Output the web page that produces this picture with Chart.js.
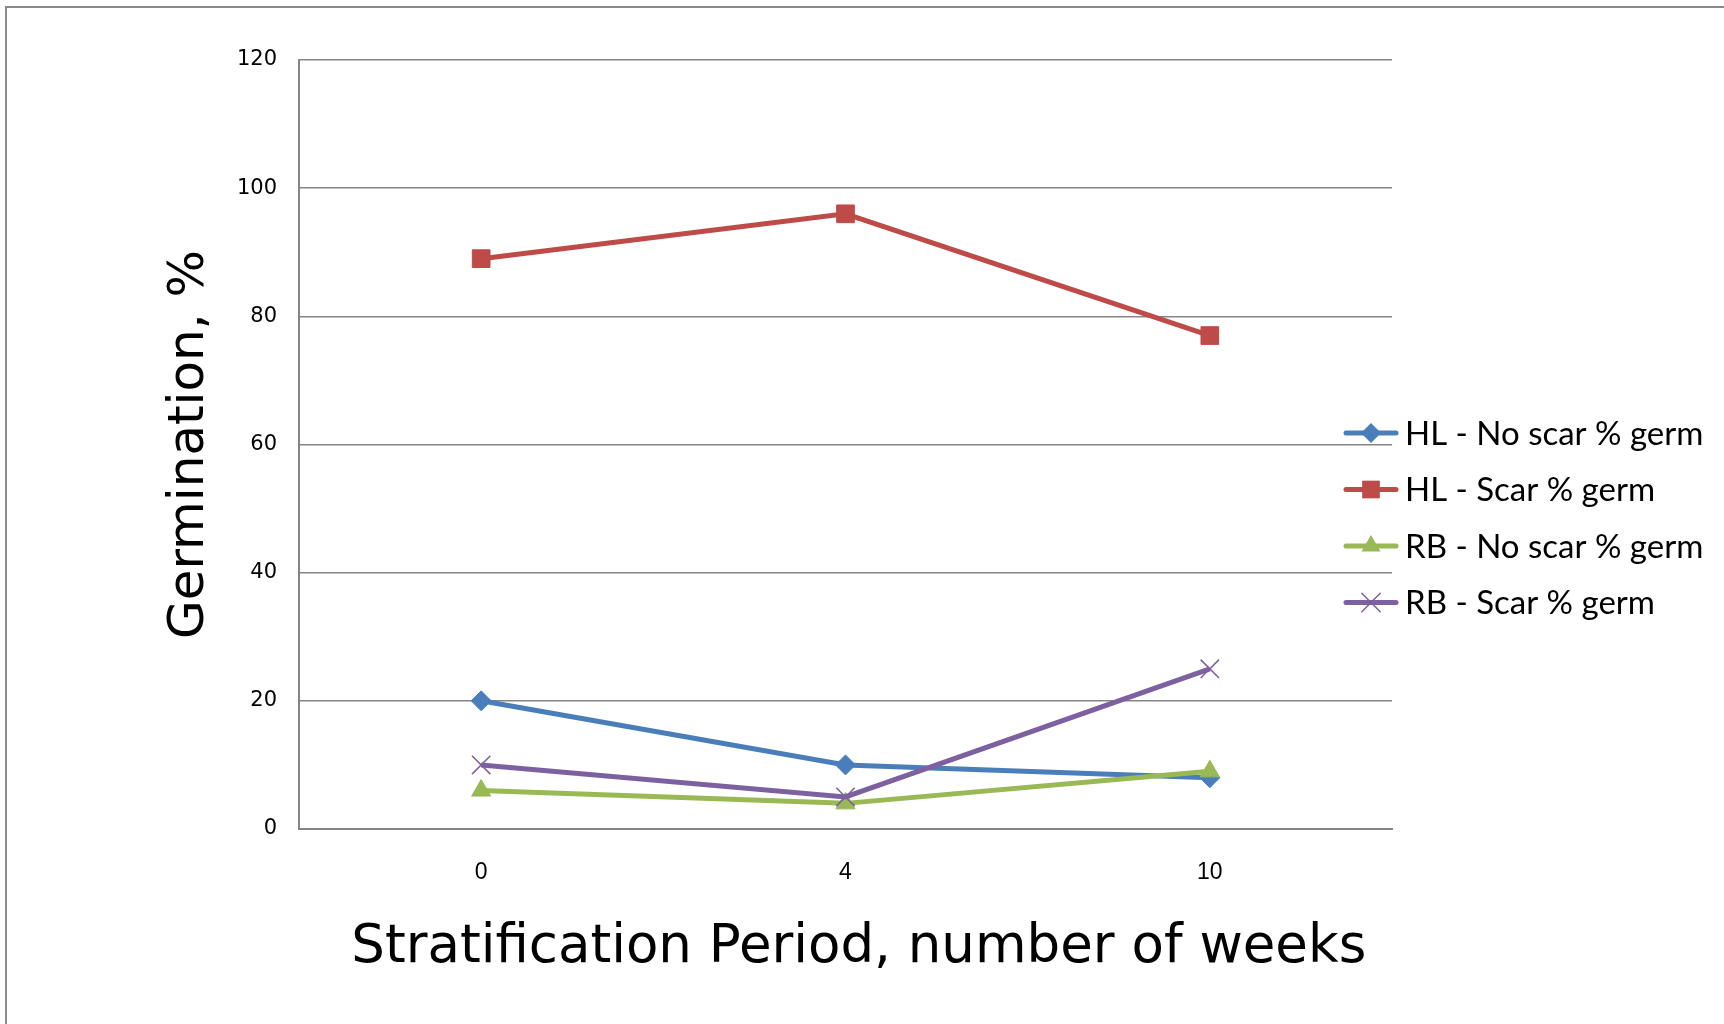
<!DOCTYPE html>
<html>
<head>
<meta charset="utf-8">
<script src="https://cdn.jsdelivr.net/npm/chart.js@4.4.1/dist/chart.umd.min.js"></script>
<style>
  html, body { margin: 0; padding: 0; background: #fff; overflow: hidden; }
  #frame {
    position: absolute; left: 5px; top: 6px; width: 1740px; height: 1040px;
    border-left: 2px solid #8a8a8a; border-top: 2px solid #8a8a8a;
  }
  #wrap { position: absolute; left: 0; top: 0; width: 1724px; height: 1024px; }
</style>
</head>
<body>
<div id="frame"></div>
<div id="wrap"><canvas id="germChart" width="1724" height="1024"></canvas></div>
<script>
// data
const weeks = ['0', '4', '10'];
const yTicks = [0, 20, 40, 60, 80, 100, 120];
const hlNoScar = [20, 10, 8];
const hlScar = [89, 96, 77];
const rbNoScar = [6, 4, 9];
const rbScar = [10, 5, 25];

const seriesNames = ['HL - No scar % germ', 'HL - Scar % germ', 'RB - No scar % germ', 'RB - Scar % germ'];
const seriesColors = ['#4A7EBB', '#BE4B48', '#98B954', '#7D60A0'];
const markers = ['rectRot', 'rect', 'triangle', 'crossRot'];
const markerSizes = [10, 12.5, 11, 13];

function drawMarker(ctx, style, x, y, r, color) {
  ctx.fillStyle = color;
  ctx.strokeStyle = color;
  ctx.beginPath();
  if (style === 'rectRot') {
    ctx.moveTo(x, y - r);
    ctx.lineTo(x + r, y);
    ctx.lineTo(x, y + r);
    ctx.lineTo(x - r, y);
    ctx.closePath();
    ctx.fill();
  } else if (style === 'rect') {
    const s = r * Math.SQRT1_2;
    ctx.rect(x - s, y - s, 2 * s, 2 * s);
    ctx.fill();
  } else if (style === 'triangle') {
    ctx.moveTo(x, y - r);
    ctx.lineTo(x + r * 0.866, y + r * 0.5);
    ctx.lineTo(x - r * 0.866, y + r * 0.5);
    ctx.closePath();
    ctx.fill();
  } else {
    const s = r * Math.SQRT1_2;
    ctx.lineWidth = 1.5;
    ctx.moveTo(x - s, y - s);
    ctx.lineTo(x + s, y + s);
    ctx.moveTo(x + s, y - s);
    ctx.lineTo(x - s, y + s);
    ctx.stroke();
  }
}

// legend on the right, overlapping the plot edge like the original
const sideLegend = {
  id: 'sideLegend',
  afterDraw(chart) {
    const ctx = chart.ctx;
    const x0 = 1346, x1 = 1396;
    ctx.save();
    chart.data.datasets.forEach((ds, i) => {
      const y = 433 + i * 56.5;
      ctx.strokeStyle = ds.borderColor;
      ctx.lineWidth = 5;
      ctx.lineCap = 'round';
      ctx.beginPath();
      ctx.moveTo(x0, y);
      ctx.lineTo(x1, y);
      ctx.stroke();
      drawMarker(ctx, markers[i], (x0 + x1) / 2, y, markerSizes[i], ds.borderColor);
      ctx.fillStyle = '#000';
      ctx.font = '33px Lato, "Open Sans", sans-serif';
      ctx.textBaseline = 'middle';
      ctx.textAlign = 'left';
      ctx.fillText(ds.label, 1405, y + 1);
    });
    ctx.restore();
  }
};

const datasets = [hlNoScar, hlScar, rbNoScar, rbScar].map((values, i) => ({
  label: seriesNames[i],
  data: values,
  borderColor: seriesColors[i],
  backgroundColor: seriesColors[i],
  borderWidth: 5,
  tension: 0,
  pointStyle: markers[i],
  pointRadius: markerSizes[i],
  pointBorderWidth: markers[i] === 'crossRot' ? 1.5 : 1,
  pointBackgroundColor: seriesColors[i],
  pointBorderColor: seriesColors[i],
  order: 3 - i
}));

const ctx = document.getElementById('germChart').getContext('2d');
new Chart(ctx, {
  type: 'line',
  data: { labels: weeks, datasets },
  options: {
    responsive: false,
    animation: false,
    layout: { padding: { left: 160, top: 60, right: 332, bottom: 0 } },
    plugins: {
      legend: { display: false },
      tooltip: { enabled: false }
    },
    scales: {
      x: {
        offset: true,
        grid: { display: false, drawTicks: false },
        border: { display: true, color: '#868686', width: 2 },
        ticks: {
          color: '#000',
          padding: 30,
          font: { family: '"Liberation Sans Narrow", "Liberation Sans", sans-serif', size: 23 }
        },
        title: {
          display: true,
          text: '\u2002Stratification Period, number of weeks',
          color: '#000',
          font: { family: '"DejaVu Sans", sans-serif', size: 53 },
          padding: { top: 0, bottom: 44 }
        },
        afterFit: s => { s.height = 195; }
      },
      y: {
        min: 0,
        max: 120,
        afterBuildTicks: s => { s.ticks = yTicks.map(v => ({ value: v })); },
        grid: { color: '#868686', lineWidth: 1.5, drawTicks: false },
        border: { display: true, color: '#868686', width: 2 },
        ticks: {
          color: '#000',
          padding: 22,
          font: { family: '"DejaVu Sans", sans-serif', size: 21 }
        },
        title: {
          display: true,
          text: 'Germination, %',
          color: '#000',
          font: { family: '"DejaVu Sans", sans-serif', size: 50 },
          padding: { top: 0, bottom: 0 }
        },
        afterFit: s => { s.width = 139; }
      }
    }
  },
  plugins: [sideLegend]
});
</script>
</body>
</html>
